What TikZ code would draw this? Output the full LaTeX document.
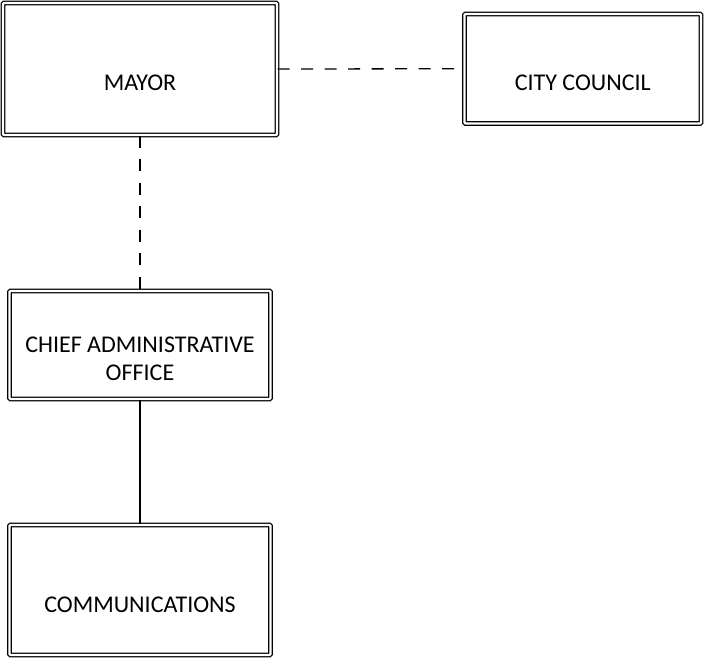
\documentclass[tikz,border=0pt]{standalone}
\usepackage{fontspec}
\setmainfont{Carlito}
\begin{document}
\begin{tikzpicture}[x=1pt,y=-1pt,
  orgbox/.style={draw=black, double=white, double distance=2.4pt, line width=1.2pt,
    rounded corners=1pt, rectangle, inner sep=0pt},
  boxtext/.style={font=\fontsize{24}{28}\selectfont, align=center},
  link/.style={draw=black, line width=1.3pt},
  dashlink/.style={link, dash pattern=on 12pt off 11.5pt}]
  \useasboundingbox (0,0) rectangle (704,659);

  % boxes (shape) with their text placed slightly below centre
  \node[orgbox, minimum width=274pt, minimum height=132pt] (mayor) at (140,69) {};
  \node[boxtext] (mayortext) at ([yshift=-14pt]mayor.center) {MAYOR};

  \node[orgbox, minimum width=236.5pt, minimum height=109.5pt] (council) at (582.75,68.75) {};
  \node[boxtext] (counciltext) at ([yshift=-14pt]council.center) {CITY COUNCIL};

  \node[orgbox, minimum width=261pt, minimum height=108pt] (cao) at (140,345) {};
  \node[boxtext] (caotext) at ([yshift=-14pt]cao.center) {CHIEF ADMINISTRATIVE\\OFFICE};

  \node[orgbox, minimum width=261pt, minimum height=130pt] (comm) at (140,590) {};
  \node[boxtext] (commtext) at ([yshift=-15pt]comm.center) {COMMUNICATIONS};

  % connectors
  \draw[dashlink] (mayor.east) -- (council.west);
  \draw[dashlink] (mayor.south) -- (cao.north);
  \draw[link] (cao.south) -- (comm.north);
\end{tikzpicture}
\end{document}
